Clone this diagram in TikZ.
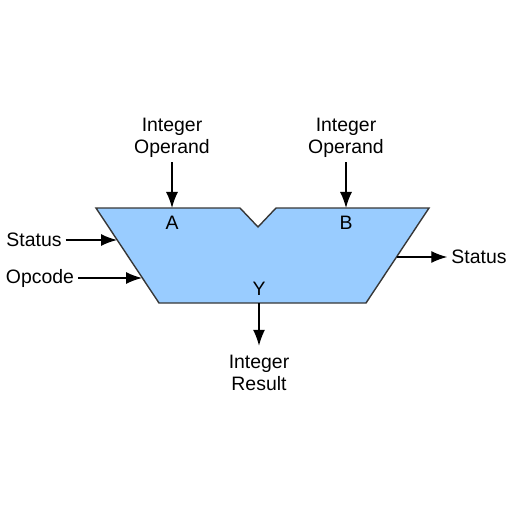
\documentclass[tikz,border=0pt]{standalone}
\usepackage{fontspec}
\setmainfont{Liberation Sans}
\usetikzlibrary{arrows.meta}

\definecolor{alublue}{RGB}{153,204,255}
\definecolor{aluedge}{RGB}{55,55,55}

\tikzset{
  alu/.style={draw=aluedge,fill=alublue,line width=1.4bp,line join=miter},
  lbl/.style={font=\fontsize{19.5}{22.5}\selectfont,align=center,inner sep=4bp},
  port/.style={font=\fontsize{19.5}{22.5}\selectfont,inner sep=0pt},
  sig/.style={line width=1.4bp,-{Latex[length=16bp,width=12bp]}}
}

\begin{document}
\begin{tikzpicture}[x=1bp,y=-1bp]
\useasboundingbox (0,0) rectangle (512,512);
% the ALU body with its notch
\draw[alu] (96,208) -- (240,208) -- (258,227) -- (276,208) -- (429,208)
   -- (366,303) -- (159,303) -- cycle;

\path node[port] (a) at (172,223) {A}
      node[port] (b) at (346,223) {B}
      node[port] (y) at (259,289) {Y};

% points where the signals meet the body
\coordinate (inA) at (172,208);
\coordinate (inB) at (346,208);
\coordinate (inSt) at (117,240);
\coordinate (inOp) at (142,278);
\coordinate (outSt) at (397,257);
\coordinate (outY) at (259,303);

\path node[lbl] (opA) at (172,138) {Integer\\Operand}
      node[lbl] (opB) at (346,138) {Integer\\Operand}
      node[lbl,inner ysep=9bp] (res) at (259,373) {Integer\\Result}
      node[lbl] (stIn) at (34,240) {Status}
      node[lbl] (opc) at (40,278) {Opcode}
      node[lbl] (stOut) at (479,257) {Status};

\draw[sig] (opA) -- (inA);
\draw[sig] (opB) -- (inB);
\draw[sig] (stIn) -- (inSt);
\draw[sig] (opc) -- (inOp);
\draw[sig] (outSt) -- (stOut);
\draw[sig] (outY) -- (res);
\end{tikzpicture}
\end{document}
